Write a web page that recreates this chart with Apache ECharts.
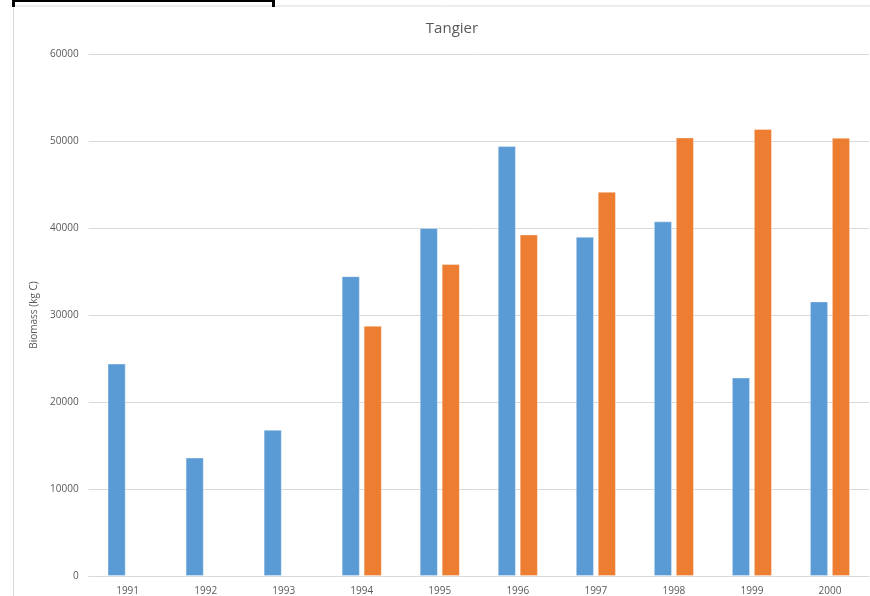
<!DOCTYPE html>
<html>
<head>
<meta charset="utf-8">
<script src="https://cdn.jsdelivr.net/npm/echarts@6/dist/echarts.min.js"></script>
<style>
html,body{margin:0;padding:0;background:#fff;}
#chart{width:870px;height:596px;}
</style>
</head>
<body>
<div id="chart"></div>
<script>
var categories = ['1991','1992','1993','1994','1995','1996','1997','1998','1999','2000'];
var seriesBlue = [24400, 13600, 16800, 34450, 40000, 49400, 38980, 40750, 22800, 31550];
var seriesOrange = [null, null, null, 28750, 35850, 39250, 44150, 50400, 51380, 50360];
var yTicks = [0, 10000, 20000, 30000, 40000, 50000, 60000];

var chart = echarts.init(document.getElementById('chart'), null, {renderer:'canvas'});
var fontFam = '"Open Sans", "Noto Sans", sans-serif';
chart.setOption({
  animation: false,
  backgroundColor: '#ffffff',
  title: {
    text: 'Tangier',
    left: 447, top: 16, textAlign: 'center',
    textStyle: {fontSize: 15, fontWeight: 'normal', color: '#595959', fontFamily: fontFam}
  },
  grid: {left: 88.6, right: 1, top: 54, bottom: 12, containLabel: false},
  xAxis: {
    type: 'category',
    data: categories,
    axisLine: {lineStyle: {color: '#d9d9d9'}},
    axisTick: {show: false},
    axisLabel: {color: '#595959', fontSize: 10, margin: 10, fontFamily: fontFam}
  },
  yAxis: {
    type: 'value',
    min: yTicks[0], max: yTicks[yTicks.length-1], interval: 10000,
    name: 'Biomass (kg C)',
    nameLocation: 'middle',
    nameGap: 44,
    nameTextStyle: {color: '#595959', fontSize: 10, fontFamily: fontFam},
    axisLine: {show: false},
    axisTick: {show: false},
    axisLabel: {color: '#595959', fontSize: 10, margin: 10, fontFamily: fontFam,
      formatter: function (v) { return String(v); }},
    splitLine: {lineStyle: {color: '#d9d9d9', width: 1}}
  },
  series: [
    {type: 'bar', name: 'A', data: seriesBlue, barWidth: 18, barGap: '22%',
     itemStyle: {color: '#5B9BD5', borderColor: 'rgba(255,255,255,0.45)', borderWidth: 0.8}},
    {type: 'bar', name: 'B', data: seriesOrange, barWidth: 18,
     itemStyle: {color: '#ED7D31', borderColor: 'rgba(255,255,255,0.45)', borderWidth: 0.8}}
  ],
  graphic: [
    {type: 'line', shape: {x1: 13, y1: 6, x2: 870, y2: 6}, style: {stroke: '#d9d9d9', lineWidth: 1}, silent: true},
    {type: 'line', shape: {x1: 13.5, y1: 6, x2: 13.5, y2: 596}, style: {stroke: '#d9d9d9', lineWidth: 1}, silent: true},
    {type: 'line', shape: {x1: 13, y1: 1, x2: 275, y2: 1}, style: {stroke: '#000', lineWidth: 2}, silent: true},
    {type: 'rect', shape: {x: 12, y: 0, width: 3, height: 7}, style: {fill: '#000'}, silent: true},
    {type: 'rect', shape: {x: 272, y: 0, width: 3, height: 7}, style: {fill: '#000'}, silent: true}
  ]
});
</script>
</body>
</html>
